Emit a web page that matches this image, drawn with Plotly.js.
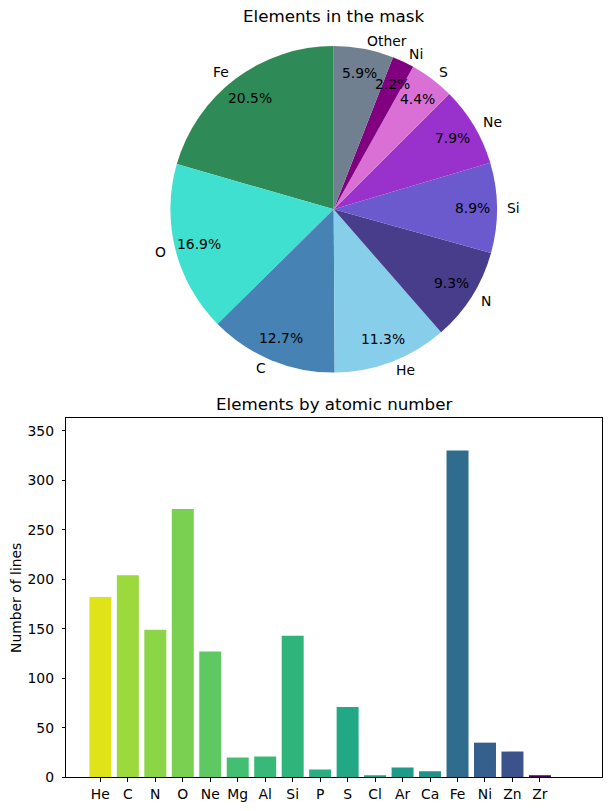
<!DOCTYPE html>
<html>
<head>
<meta charset="utf-8">
<script src="https://cdn.plot.ly/plotly-3.0.1.min.js"></script>
<style>
  html, body { margin: 0; padding: 0; background: #fff; }
  #chart { width: 611px; height: 811px; }
</style>
</head>
<body>
<div id="chart"></div>
<script>
// Number of spectral lines per element, ordered by atomic number
const elements = ['He', 'C', 'N', 'O', 'Ne', 'Mg', 'Al', 'Si', 'P', 'S', 'Cl', 'Ar', 'Ca', 'Fe', 'Ni', 'Zn', 'Zr'];
const lineCounts = [182, 204, 149, 271, 127, 20, 21, 143, 8, 71, 2, 10, 6, 330, 35, 26, 2];
const yTicks = [0, 50, 100, 150, 200, 250, 300, 350];

// Bar fills (viridis, reversed along atomic number)
const barColors = ['#dfe318', '#9bd93c', '#8bd646', '#7ad151', '#5ec962', '#43bf71', '#38b977', '#2fb47c',
                   '#28ae80', '#22a884', '#1fa188', '#1e9c89', '#21918c', '#2f6c8e', '#355f8d', '#3b528b', '#440154'];
// Pie slice fills, largest element first, "Other" last
const pieColors = ['seagreen', 'turquoise', 'steelblue', 'skyblue', 'darkslateblue', 'slateblue',
                   'darkorchid', 'orchid', 'purple', 'slategray'];
const nTop = 9;

// Pie: the nTop most frequent elements, everything else merged into "Other"
const order = elements.map((e, i) => i).sort((a, b) => lineCounts[b] - lineCounts[a]);
const pieLabels = order.slice(0, nTop).map(i => elements[i]).concat(['Other']);
const pieValues = order.slice(0, nTop).map(i => lineCounts[i])
  .concat([order.slice(nTop).reduce((s, i) => s + lineCounts[i], 0)]);
const total = pieValues.reduce((s, v) => s + v, 0);

// Page geometry (px)
const W = 611, H = 811;
const cx = 333.7, cy = 209.3, R = 163.3;
const ax0 = 66.3, ax1 = 602.3, ayTop = 418.3, ayBot = 777.3;
const FONT = 'DejaVu Sans, sans-serif';
const px = x => x / W;
const py = y => 1 - y / H;

const annotations = [];
// Slice labels (outside) and percentages (inside); slices run counterclockwise from 12 o'clock
let cum = 0;
pieValues.forEach((v, i) => {
  const frac = v / total;
  const mid = cum + frac / 2;
  cum += frac;
  const th = (90 + 360 * mid) * Math.PI / 180;
  const c = Math.cos(th), s = Math.sin(th);
  annotations.push({
    xref: 'paper', yref: 'paper', showarrow: false,
    x: px(cx + 1.05 * R * c), y: py(cy - 1.05 * R * s),
    xanchor: c > 0 ? 'left' : 'right', yanchor: 'middle',
    text: pieLabels[i], font: {family: FONT, size: 13.9, color: '#000'}
  });
  annotations.push({
    xref: 'paper', yref: 'paper', showarrow: false,
    x: px(cx + 0.85 * R * c), y: py(cy - 0.85 * R * s),
    xanchor: 'center', yanchor: 'middle',
    text: (100 * frac).toFixed(1) + '%', font: {family: FONT, size: 13.9, color: '#000'}
  });
});

// Titles
annotations.push({
  xref: 'paper', yref: 'paper', showarrow: false, x: px(333.3), y: py(16.5),
  xanchor: 'center', yanchor: 'middle', text: 'Elements in the mask',
  font: {family: FONT, size: 16.7, color: '#000'}
});
annotations.push({
  xref: 'paper', yref: 'paper', showarrow: false, x: px((ax0 + ax1) / 2), y: py(404.5),
  xanchor: 'center', yanchor: 'middle', text: 'Elements by atomic number',
  font: {family: FONT, size: 16.7, color: '#000'}
});
annotations.push({
  xref: 'paper', yref: 'paper', showarrow: false, x: px(16), y: py(598),
  xanchor: 'center', yanchor: 'middle', textangle: -90, text: 'Number of lines',
  font: {family: FONT, size: 13.9, color: '#000'}
});

const pie = {
  type: 'pie',
  labels: pieLabels,
  values: pieValues,
  sort: false,
  direction: 'counterclockwise',
  // Plotly puts the first counterclockwise slice just right of 12 o'clock; turn it back by its own angle
  rotation: -360 * pieValues[0] / total,
  textinfo: 'none',
  hoverinfo: 'label+percent',
  marker: {colors: pieColors, line: {width: 0}},
  domain: {x: [px(cx - R), px(cx + R)], y: [py(cy + R), py(cy - R)]},
  showlegend: false
};

const bars = {
  type: 'bar',
  x: elements,
  y: lineCounts,
  width: 0.8,
  marker: {color: barColors, line: {width: 0}},
  xaxis: 'x', yaxis: 'y',
  showlegend: false
};

const axisCommon = {
  showline: true, mirror: true, linecolor: '#000', linewidth: 1,
  ticks: 'outside', ticklen: 3.5, tickwidth: 1, tickcolor: '#000',
  showgrid: false, zeroline: false,
  tickfont: {family: FONT, size: 13.9, color: '#000'}
};

const layout = {
  width: W, height: H,
  margin: {l: 0, r: 0, t: 0, b: 0},
  paper_bgcolor: '#fff', plot_bgcolor: '#fff',
  font: {family: FONT, color: '#000'},
  xaxis: Object.assign({}, axisCommon, {
    domain: [px(ax0), px(ax1)], anchor: 'y', type: 'category',
    range: [-1.24, 18.27], ticklabelstandoff: 1
  }),
  yaxis: Object.assign({}, axisCommon, {
    domain: [py(ayBot), py(ayTop)], anchor: 'x',
    range: [0, 362.6], tickvals: yTicks, ticklabelstandoff: 5
  }),
  annotations: annotations,
  bargap: 0.2
};

Plotly.newPlot('chart', [pie, bars], layout, {displayModeBar: false, staticPlot: true});
</script>
</body>
</html>
